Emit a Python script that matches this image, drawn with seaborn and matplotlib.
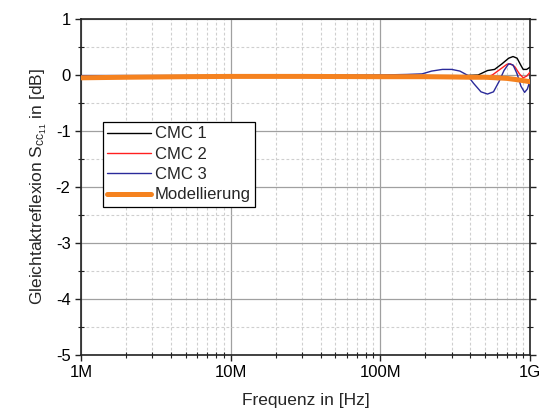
import numpy as np
import pandas as pd
import matplotlib
matplotlib.use("Agg")
import matplotlib.pyplot as plt
from matplotlib.ticker import FixedLocator, LogLocator, NullFormatter, MultipleLocator
import seaborn as sns

# Measured common-mode reflection of three chokes and the model curve
freq_cmc1 = [1e6, 3e6, 1e7, 3e7, 1e8, 2e8, 3e8, 4.5e8, 5.2e8, 5.8e8, 6.5e8, 7.2e8, 7.7e8, 8.2e8, 8.7e8, 9.0e8, 9.5e8, 1e9]
sdd_cmc1 = [-0.02, -0.02, -0.01, -0.01, -0.01, -0.01, -0.02, 0.0, 0.08, 0.1, 0.2, 0.3, 0.33, 0.3, 0.17, 0.1, 0.1, 0.14]

freq_cmc2 = [1e6, 3e6, 1e7, 3e7, 1e8, 2e8, 3e8, 4e8, 5e8, 5.6e8, 6.3e8, 7.0e8, 7.4e8, 7.9e8, 8.5e8, 9.0e8, 9.5e8, 1e9]
sdd_cmc2 = [-0.03, -0.03, -0.02, -0.02, -0.02, -0.02, -0.04, -0.06, -0.04, 0.0, 0.1, 0.19, 0.2, 0.15, 0.02, -0.05, -0.02, 0.05]

freq_cmc3 = [1e6, 3e6, 1e7, 3e7, 1e8, 1.5e8, 1.9e8, 2.2e8, 2.6e8, 3.0e8, 3.4e8, 3.8e8, 4.2e8, 4.7e8, 5.2e8, 5.7e8, 6.2e8, 6.7e8, 7.2e8, 7.7e8, 8.2e8, 8.7e8, 9.2e8, 9.6e8, 1e9]
sdd_cmc3 = [-0.01, -0.01, -0.01, -0.01, 0.0, 0.01, 0.02, 0.07, 0.1, 0.1, 0.07, 0.0, -0.15, -0.3, -0.34, -0.3, -0.12, 0.08, 0.2, 0.18, 0.02, -0.2, -0.31, -0.25, -0.1]

freq_model = [1e6, 2e6, 5e6, 1e7, 3e7, 1e8, 2e8, 3e8, 4e8, 5e8, 6e8, 7e8, 8e8, 9e8, 1e9]
sdd_model = [-0.05, -0.04, -0.03, -0.025, -0.025, -0.03, -0.03, -0.035, -0.04, -0.04, -0.05, -0.06, -0.08, -0.1, -0.12]

series_names = ["CMC 1", "CMC 2", "CMC 3", "Modellierung"]
series_colors = ["#000000", "#ff2020", "#2a2a9a", "#f5821f"]
series_widths = [1.0, 1.0, 1.0, 3.6]

x_ticks = [1e6, 1e7, 1e8, 1e9]
x_labels = ["1M", "10M", "100M", "1G"]
y_ticks = [-5, -4, -3, -2, -1, 0, 1]

sns.set_style("white")
plt.rcParams["font.family"] = ["Liberation Sans", "DejaVu Sans"]
plt.rcParams["mathtext.fontset"] = "custom"
plt.rcParams["mathtext.rm"] = "Liberation Sans"
plt.rcParams["mathtext.it"] = "Liberation Sans"
plt.rcParams["axes.unicode_minus"] = False

fig = plt.figure(figsize=(5.41, 4.17), dpi=100)
ax = fig.add_axes([0.1497, 0.1487, 0.8300, 0.8057])

frames = []
for name, f, s in [("CMC 1", freq_cmc1, sdd_cmc1), ("CMC 2", freq_cmc2, sdd_cmc2),
                   ("CMC 3", freq_cmc3, sdd_cmc3), ("Modellierung", freq_model, sdd_model)]:
    frames.append(pd.DataFrame({"f": f, "s": s, "name": name}))
df = pd.concat(frames, ignore_index=True)

for name, color, lw in zip(series_names, series_colors, series_widths):
    sub = df[df["name"] == name]
    sns.lineplot(data=sub, x="f", y="s", ax=ax, color=color, linewidth=lw,
                 label=name, estimator=None, sort=False,
                 zorder=3 if name != "Modellierung" else 4)

ax.set_xscale("log")
ax.set_xlim(1e6, 1e9)
ax.set_ylim(-5, 1)

ax.xaxis.set_major_locator(FixedLocator(x_ticks))
ax.set_xticklabels(x_labels)
ax.xaxis.set_minor_locator(LogLocator(base=10, subs=np.arange(2, 10)))
ax.xaxis.set_minor_formatter(NullFormatter())
ax.yaxis.set_major_locator(FixedLocator(y_ticks))
ax.yaxis.set_minor_locator(MultipleLocator(0.5))

ax.grid(which="major", color="#a0a0a0", linestyle="-", linewidth=0.9)
ax.grid(which="minor", color="#cfcfcf", linestyle=(0, (2.5, 2)), linewidth=0.8)
ax.set_axisbelow(True)

for sp in ax.spines.values():
    sp.set_visible(True)
    sp.set_color("#222222")
    sp.set_linewidth(1.2)

ax.tick_params(which="major", direction="out", length=4, width=1, labelsize=12,
               bottom=True, left=True, right=True, top=False, colors="#222222",
               labelcolor="black")
ax.tick_params(which="minor", direction="inout", length=4, width=0.8,
               bottom=True, left=True, right=True, top=False, colors="#222222")

ax.set_xlabel("Frequenz in [Hz]", fontsize=12.5, labelpad=9)
ax.set_ylabel(r"Gleichtaktreflexion $\mathregular{S_{cc_{11}}}$ in [dB]", fontsize=12.5, labelpad=5)

leg = ax.legend(loc="lower left", bbox_to_anchor=(0.048, 0.44), borderaxespad=0,
                frameon=True, fancybox=False, fontsize=12, handlelength=2.6,
                handletextpad=0.25, labelspacing=0.32, borderpad=0.28)
leg.get_frame().set_edgecolor("black")
leg.get_frame().set_linewidth(0.9)
leg.get_frame().set_alpha(1)

fig.savefig("out.png", dpi=100)
